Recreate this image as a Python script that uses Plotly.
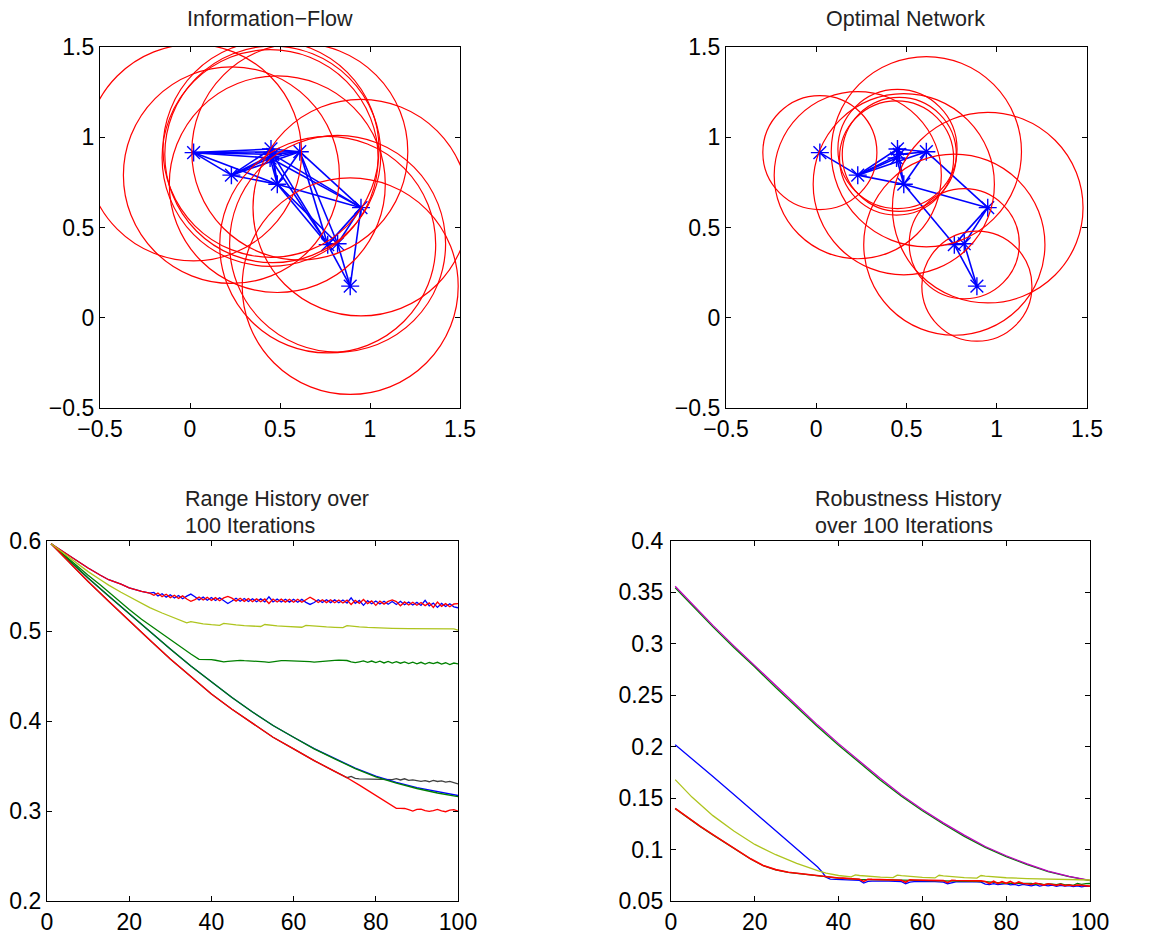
import plotly.graph_objects as go

# ---------------- network data ----------------
node_x = [0.02, 0.23, 0.45, 0.46, 0.445, 0.61, 0.485, 0.95, 0.765, 0.82, 0.89]
node_y = [0.915, 0.79, 0.935, 0.905, 0.885, 0.92, 0.74, 0.61, 0.405, 0.41, 0.175]

radius_info = [0.6, 0.6, 0.6, 0.6, 0.6, 0.6, 0.6, 0.6, 0.6, 0.6, 0.6]
radius_opt = [0.316, 0.463, 0.33, 0.316, 0.316, 0.527, 0.502, 0.528, 0.502, 0.305, 0.305]

edges_info = [(1, 2), (1, 3), (1, 4), (1, 5), (1, 6), (1, 7), (2, 3), (2, 4), (2, 5), (2, 6), (2, 7),
              (3, 4), (3, 5), (4, 5), (3, 6), (4, 6), (5, 6), (3, 7), (4, 7), (5, 7), (6, 7),
              (4, 8), (5, 8), (6, 8), (7, 8), (4, 9), (5, 9), (6, 9), (6, 10), (7, 9), (7, 10),
              (8, 9), (8, 10), (8, 11), (9, 10), (9, 11), (10, 11)]
edges_opt = [(1, 2), (2, 3), (2, 4), (2, 5), (2, 6), (2, 7), (3, 4), (4, 5), (3, 6), (4, 6),
             (3, 7), (5, 7), (6, 7), (6, 8), (7, 8), (7, 9), (8, 9), (8, 10), (9, 10), (9, 11), (10, 11)]

net_ticks = [-0.5, 0, 0.5, 1, 1.5]
net_ticktext = ["\u22120.5", "0", "0.5", "1", "1.5"]

# ---------------- range history ----------------
rA_blue_x = [1, 3, 5, 8, 10, 13, 15, 18, 20, 23, 25] + list(range(26, 101))
rA_blue_y = [0.597, 0.591, 0.585, 0.576, 0.570, 0.562, 0.557, 0.552, 0.548, 0.544, 0.542,
             0.5428, 0.5389, 0.5414, 0.5376, 0.5403, 0.5366, 0.5394, 0.5358, 0.5387, 0.5410,
             0.5381, 0.5346, 0.5376, 0.5342, 0.5372, 0.5339, 0.5369, 0.5336, 0.5305, 0.5333,
             0.5364, 0.5331, 0.5361, 0.5328, 0.5358, 0.5325, 0.5357, 0.5324, 0.5380, 0.5323,
             0.5354, 0.5322, 0.5353, 0.5321, 0.5352, 0.5320, 0.5351, 0.5318, 0.5295, 0.5317,
             0.5348, 0.5316, 0.5347, 0.5315, 0.5346, 0.5313, 0.5344, 0.5311, 0.5368, 0.5308,
             0.5339, 0.5285, 0.5337, 0.5303, 0.5334, 0.5300, 0.5331, 0.5297, 0.5328, 0.5294,
             0.5330, 0.5291, 0.5321, 0.5288, 0.5318, 0.5284, 0.5340, 0.5280, 0.5310, 0.5262,
             0.5306, 0.5272, 0.5302, 0.5268, 0.5258]
rA_red_x = [1, 3, 5, 8, 10, 13, 15, 18, 20, 23, 25] + list(range(26, 101))
rA_red_y = [0.597, 0.591, 0.585, 0.576, 0.570, 0.562, 0.557, 0.552, 0.548, 0.544, 0.542,
            0.5396, 0.5421, 0.5382, 0.5408, 0.5371, 0.5398, 0.5362, 0.5390, 0.5355, 0.5330,
            0.5349, 0.5378, 0.5344, 0.5374, 0.5340, 0.5371, 0.5337, 0.5368, 0.5385, 0.5365,
            0.5332, 0.5363, 0.5329, 0.5360, 0.5326, 0.5357, 0.5325, 0.5356, 0.5305, 0.5355,
            0.5322, 0.5354, 0.5321, 0.5353, 0.5320, 0.5352, 0.5319, 0.5350, 0.5375, 0.5349,
            0.5316, 0.5348, 0.5315, 0.5347, 0.5314, 0.5345, 0.5312, 0.5343, 0.5295, 0.5340,
            0.5307, 0.5350, 0.5305, 0.5335, 0.5285, 0.5332, 0.5299, 0.5329, 0.5345, 0.5326,
            0.5280, 0.5323, 0.5289, 0.5320, 0.5286, 0.5316, 0.5282, 0.5312, 0.5262, 0.5322,
            0.5274, 0.5304, 0.5270, 0.5300, 0.5305]
rB_olive_x = [1, 3, 5, 8, 10, 13, 15, 18, 20, 23, 25, 28, 30, 32, 34, 35, 36, 38, 40, 42, 43, 44, 46, 48,
              50, 52, 53, 54, 56, 58, 60, 62, 63, 64, 66, 68, 70, 72, 73, 74, 76, 78, 80, 84, 88, 92, 96, 99, 100]
rB_olive_y = [0.597, 0.590, 0.583, 0.573, 0.566, 0.557, 0.551, 0.543, 0.538, 0.531, 0.526, 0.520, 0.5165,
              0.5125, 0.5090, 0.5105, 0.5095, 0.5080, 0.5070, 0.5063, 0.5085, 0.5078, 0.5068, 0.5060,
              0.5055, 0.5050, 0.5072, 0.5066, 0.5057, 0.5051, 0.5046, 0.5042, 0.5063, 0.5058, 0.5050,
              0.5045, 0.5041, 0.5038, 0.5060, 0.5054, 0.5046, 0.5040, 0.5035, 0.5030, 0.5027, 0.5025,
              0.5024, 0.5023, 0.5010]
rC_green_x = [1, 3, 5, 8, 10, 13, 15, 18, 20, 23, 25, 28, 30, 33, 35, 37] + list(range(38, 101))
rC_green_y = [0.597, 0.589, 0.581, 0.569, 0.562, 0.551, 0.543, 0.532, 0.524, 0.513, 0.5065, 0.4965, 0.490,
              0.481, 0.4745, 0.4685,
              0.4685, 0.4687, 0.4683, 0.4675, 0.4668, 0.4658, 0.4662, 0.4668, 0.4670, 0.4674,
              0.4670, 0.4668, 0.4670, 0.4668, 0.4666, 0.4658, 0.4652, 0.4660, 0.4665, 0.4670,
              0.4670, 0.4668, 0.4666, 0.4668, 0.4670, 0.4666, 0.4660, 0.4655, 0.4660, 0.4664,
              0.4668, 0.4672, 0.4674, 0.4676, 0.4678, 0.4672, 0.4658, 0.4648, 0.4658, 0.4668,
              0.4652, 0.4666, 0.4648, 0.4664, 0.4645, 0.4662, 0.4643, 0.4660, 0.4642, 0.4657,
              0.4637, 0.4654, 0.4635, 0.4652, 0.4633, 0.4650, 0.4637, 0.4652, 0.4632, 0.4647,
              0.4627, 0.4644, 0.4635]
rD_x = [1, 5, 10, 15, 20, 25, 30, 35, 40, 45, 50, 55, 60, 65, 70, 75, 80, 85, 90, 95, 100]
rD_green_y = [0.597, 0.580, 0.559, 0.539, 0.519, 0.499, 0.480, 0.461, 0.443, 0.426, 0.410, 0.395,
              0.382, 0.369, 0.358, 0.347, 0.338, 0.331, 0.325, 0.320, 0.316]
rD_blue_y = [0.597, 0.580, 0.559, 0.539, 0.519, 0.499, 0.480, 0.461, 0.443, 0.426, 0.410, 0.395,
             0.382, 0.3693, 0.3585, 0.3476, 0.3387, 0.3319, 0.3260, 0.3212, 0.3172]
rE_black_x = [1, 5, 10, 15, 20, 25, 30, 35, 40, 45, 50, 55, 60, 65, 70, 73, 74, 75, 76, 78, 80, 82, 84,
              85, 86, 87, 88, 89, 90, 91, 92, 93, 94, 95, 96, 97, 98, 99, 100]
rE_black_y = [0.597, 0.578, 0.555, 0.533, 0.511, 0.490, 0.469, 0.449, 0.430, 0.413, 0.397, 0.382,
              0.369, 0.356, 0.344, 0.337, 0.3385, 0.3362, 0.3358, 0.3355, 0.3352, 0.3350, 0.3348,
              0.3360, 0.3345, 0.3358, 0.3340, 0.3346, 0.3342, 0.3330, 0.3338, 0.3325, 0.3340,
              0.3328, 0.3335, 0.3320, 0.3330, 0.3318, 0.3300]
rF_red_x = [1, 5, 10, 15, 20, 25, 30, 35, 40, 45, 50, 55, 60, 65, 70, 73, 76, 80, 83, 85] + list(range(86, 101))
rF_red_y = [0.597, 0.578, 0.555, 0.533, 0.511, 0.490, 0.469, 0.449, 0.430, 0.413, 0.397, 0.382,
            0.369, 0.356, 0.344, 0.337, 0.3287, 0.3175, 0.309, 0.303,
            0.3030, 0.3028, 0.3015, 0.3000, 0.3018, 0.3020, 0.3003, 0.2995, 0.3005, 0.3018,
            0.3002, 0.2992, 0.3010, 0.3015, 0.2998]

# ---------------- robustness history ----------------
rob_smooth_x = [1, 5, 10, 15, 20, 25, 30, 35, 40, 45, 50, 55, 60, 65, 70, 75, 80, 85, 90, 95, 100]
rob_mag_y = [0.356, 0.339, 0.318, 0.298, 0.279, 0.259, 0.240, 0.221, 0.203, 0.186, 0.169, 0.153,
             0.139, 0.126, 0.114, 0.103, 0.094, 0.086, 0.079, 0.074, 0.070]
rob_green_y = [0.3545, 0.3375, 0.3165, 0.2965, 0.2775, 0.2575, 0.2385, 0.2195, 0.2015, 0.1845, 0.1675,
               0.1518, 0.1378, 0.1248, 0.1128, 0.1022, 0.0932, 0.0853, 0.0786, 0.0736, 0.0698]
rob_blue_x = [1, 5, 10, 15, 20, 25, 30, 33, 35, 36, 37] + list(range(38, 101))
rob_blue_y = [0.202, 0.1885, 0.171, 0.1535, 0.136, 0.1185, 0.101, 0.090, 0.083, 0.0785, 0.0730,
              0.0712, 0.0710, 0.0711, 0.0708, 0.0706, 0.0705, 0.0704, 0.0700, 0.0675, 0.0690,
              0.0693, 0.0695, 0.0695, 0.0694, 0.0693, 0.0692, 0.0690, 0.0688, 0.0668, 0.0684,
              0.0688, 0.0690, 0.0690, 0.0690, 0.0689, 0.0688, 0.0686, 0.0683, 0.0668, 0.0680,
              0.0685, 0.0687, 0.0688, 0.0688, 0.0687, 0.0686, 0.0684, 0.0665, 0.0660, 0.0668,
              0.0660, 0.0662, 0.0668, 0.0656, 0.0662, 0.0650, 0.0662, 0.0655, 0.0648, 0.0658,
              0.0645, 0.0655, 0.0648, 0.0655, 0.0642, 0.0652, 0.0645, 0.0650, 0.0640, 0.0648,
              0.0638, 0.0645, 0.0643]
rob_olive_x = [1, 5, 10, 15, 20, 25, 30, 33, 35, 37, 38, 40, 43, 44, 45, 47, 50, 53, 54, 55, 57, 60,
               63, 64, 65, 67, 70, 73, 74, 75, 77, 80, 85, 90, 95, 100]
rob_olive_y = [0.168, 0.151, 0.133, 0.118, 0.105, 0.095, 0.0865, 0.082, 0.0795, 0.0770, 0.0762, 0.0748,
               0.0735, 0.0754, 0.0748, 0.0740, 0.0733, 0.0727, 0.0752, 0.0746, 0.0738, 0.0730,
               0.0724, 0.0750, 0.0744, 0.0736, 0.0728, 0.0722, 0.0748, 0.0742, 0.0734, 0.0726,
               0.0718, 0.0712, 0.0708, 0.0704]
rob_red_x = [1, 4, 7, 10, 13, 16, 19, 22, 25, 28, 31, 34, 37] + list(range(38, 101))
rob_red_y = [0.140, 0.131, 0.1225, 0.1145, 0.1065, 0.0985, 0.0910, 0.0845, 0.0805, 0.0780, 0.0765,
             0.0752, 0.0735,
             0.0728, 0.0726, 0.0724, 0.0722, 0.0720, 0.0718, 0.0716, 0.0712, 0.0690, 0.0712,
             0.0710, 0.0709, 0.0708, 0.0708, 0.0707, 0.0707, 0.0705, 0.0702, 0.0682, 0.0705,
             0.0704, 0.0703, 0.0703, 0.0702, 0.0702, 0.0701, 0.0700, 0.0698, 0.0678, 0.0702,
             0.0700, 0.0700, 0.0699, 0.0699, 0.0698, 0.0698, 0.0696, 0.0690, 0.0670, 0.0692,
             0.0670, 0.0688, 0.0672, 0.0690, 0.0668, 0.0685, 0.0670, 0.0668, 0.0660, 0.0675,
             0.0662, 0.0655, 0.0668, 0.0660, 0.0652, 0.0662, 0.0650, 0.0655, 0.0648, 0.0656,
             0.0650, 0.0648, 0.0645]
rob_green2_x = [1, 4, 7, 10, 13, 16, 19, 22, 25, 28, 31, 34, 37, 40, 45, 50, 55, 60, 65, 70, 75, 80,
                84, 85, 86, 87, 88, 89, 90, 91, 92, 93, 94, 95, 96, 97, 98, 99, 100]
rob_green2_y = [0.1398, 0.1308, 0.1223, 0.1143, 0.1063, 0.0983, 0.0908, 0.0843, 0.0803, 0.0778,
                0.0763, 0.0750, 0.0733, 0.0723, 0.0711, 0.0707, 0.0703, 0.0702, 0.0699, 0.0698,
                0.0689, 0.0672, 0.0670, 0.0665, 0.0670, 0.0662, 0.0668, 0.0660, 0.0666, 0.0664,
                0.0660, 0.0668, 0.0656, 0.0660, 0.0652, 0.0670, 0.0662, 0.0668, 0.0670]

range_ticks = [0.2, 0.3, 0.4, 0.5, 0.6]
range_ticktext = ["0.2", "0.3", "0.4", "0.5", "0.6"]
rob_ticks = [0.05, 0.1, 0.15, 0.2, 0.25, 0.3, 0.35, 0.4]
rob_ticktext = ["0.05", "0.1", "0.15", "0.2", "0.25", "0.3", "0.35", "0.4"]
iter_ticks = [0, 20, 40, 60, 80, 100]
iter_ticktext = ["0", "20", "40", "60", "80", "100"]

# ---------------- colours ----------------
C_BLUE = "#0000FF"
C_GREEN = "#008000"
C_RED = "#FF0000"
C_OLIVE = "#AEC41E"
C_BLACK = "#404040"
C_MAG = "#BF00BF"

W, H = 1159, 939
FONT = "Liberation Sans, Arial, Helvetica, sans-serif"

fig = go.Figure()


def line(x, y, color, xa, ya, width=1.3):
    fig.add_trace(go.Scatter(x=x, y=y, mode="lines", line=dict(color=color, width=width),
                             xaxis=xa, yaxis=ya, showlegend=False, hoverinfo="skip"))


def network(edges, xa, ya):
    ex, ey = [], []
    for a, b in edges:
        ex += [node_x[a - 1], node_x[b - 1], None]
        ey += [node_y[a - 1], node_y[b - 1], None]
    fig.add_trace(go.Scatter(x=ex, y=ey, mode="lines", line=dict(color=C_BLUE, width=1.6),
                             xaxis=xa, yaxis=ya, showlegend=False, hoverinfo="skip"))
    fig.add_trace(go.Scatter(x=node_x, y=node_y, mode="markers",
                             marker=dict(symbol="asterisk-open", size=15, color=C_BLUE,
                                         line=dict(color=C_BLUE, width=1.4)),
                             xaxis=xa, yaxis=ya, showlegend=False, hoverinfo="skip"))


network(edges_info, "x", "y")
network(edges_opt, "x2", "y2")

shapes = []
for cx, cy, r in zip(node_x, node_y, radius_info):
    shapes.append(dict(type="circle", xref="x", yref="y", x0=cx - r, x1=cx + r, y0=cy - r, y1=cy + r,
                       line=dict(color=C_RED, width=1.2)))
for cx, cy, r in zip(node_x, node_y, radius_opt):
    shapes.append(dict(type="circle", xref="x2", yref="y2", x0=cx - r, x1=cx + r, y0=cy - r, y1=cy + r,
                       line=dict(color=C_RED, width=1.2)))

# range history
line(rE_black_x, rE_black_y, C_BLACK, "x3", "y3")
line(rD_x, rD_blue_y, C_BLUE, "x3", "y3")
line(rA_blue_x, rA_blue_y, C_BLUE, "x3", "y3")
line(rC_green_x, rC_green_y, C_GREEN, "x3", "y3")
line(rD_x, rD_green_y, C_GREEN, "x3", "y3")
line(rA_red_x, rA_red_y, C_RED, "x3", "y3")
line(rF_red_x, rF_red_y, C_RED, "x3", "y3")
line(rB_olive_x, rB_olive_y, C_OLIVE, "x3", "y3")

# robustness history
line(rob_smooth_x, rob_green_y, C_GREEN, "x4", "y4")
line(rob_smooth_x, rob_mag_y, C_MAG, "x4", "y4")
line(rob_blue_x, rob_blue_y, C_BLUE, "x4", "y4")
line(rob_green2_x, rob_green2_y, C_GREEN, "x4", "y4")
line(rob_red_x, rob_red_y, C_RED, "x4", "y4", width=1.6)
line(rob_olive_x, rob_olive_y, C_OLIVE, "x4", "y4")


def fx(px):
    return px / W


def fy(py):
    return 1 - py / H


def px_x(a, b):
    return [fx(a), fx(b)]


def px_y(top, bottom):
    return [fy(bottom), fy(top)]


def axis(domain, rng, tickvals, ticktext, anchor, standoff):
    return dict(domain=domain, range=rng, tickvals=tickvals, ticktext=ticktext, anchor=anchor,
                showline=True, linecolor="black", linewidth=1.2, mirror="ticks",
                ticks="inside", ticklen=5, tickwidth=1, tickcolor="black",
                showgrid=False, zeroline=False, ticklabelstandoff=standoff, automargin=False,
                tickfont=dict(family=FONT, size=23, color="black"))


layout = dict(
    width=W, height=H, margin=dict(l=0, r=0, t=0, b=0, pad=0), autosize=False,
    paper_bgcolor="white", plot_bgcolor="white",
    font=dict(family=FONT, size=21, color="black"),
    shapes=shapes,
    xaxis=axis(px_x(100, 460), [-0.5, 1.5], net_ticks, net_ticktext, "y", 0),
    yaxis=axis(px_y(47, 408), [-0.5, 1.5], net_ticks, net_ticktext, "x", 0),
    xaxis2=axis(px_x(726, 1087), [-0.5, 1.5], net_ticks, net_ticktext, "y2", 0),
    yaxis2=axis(px_y(47, 408), [-0.5, 1.5], net_ticks, net_ticktext, "x2", 0),
    xaxis3=axis(px_x(47, 458), [0, 100], iter_ticks, iter_ticktext, "y3", 0),
    yaxis3=axis(px_y(541, 901), [0.2, 0.6], range_ticks, range_ticktext, "x3", 0),
    xaxis4=axis(px_x(671, 1090), [0, 100], iter_ticks, iter_ticktext, "y4", 0),
    yaxis4=axis(px_y(541, 901), [0.05, 0.4], rob_ticks, rob_ticktext, "x4", 2),
)

title_font = dict(family=FONT, size=21.5, color="#222222")
annotations = [
    dict(text="Information\u2212Flow", x=fx(270), y=fy(19), xref="paper", yref="paper",
         xanchor="center", yanchor="middle", showarrow=False, font=title_font),
    dict(text="Optimal Network", x=fx(905), y=fy(19), xref="paper", yref="paper",
         xanchor="center", yanchor="middle", showarrow=False, font=title_font),
    dict(text="Range History over", x=fx(183), y=fy(499), xref="paper", yref="paper",
         xanchor="left", yanchor="middle", showarrow=False, font=title_font),
    dict(text="100 Iterations", x=fx(183), y=fy(526), xref="paper", yref="paper",
         xanchor="left", yanchor="middle", showarrow=False, font=title_font),
    dict(text="Robustness History", x=fx(813), y=fy(499), xref="paper", yref="paper",
         xanchor="left", yanchor="middle", showarrow=False, font=title_font),
    dict(text="over 100 Iterations", x=fx(813), y=fy(526), xref="paper", yref="paper",
         xanchor="left", yanchor="middle", showarrow=False, font=title_font),
]
layout["annotations"] = annotations

fig.update_layout(**layout)
# remove the page's default body margin so the figure fills the window exactly
fig.write_html("out.html",
               config={"displayModeBar": False, "staticPlot": True},
               post_script="document.body.style.margin='0';document.body.style.overflow='hidden';")
